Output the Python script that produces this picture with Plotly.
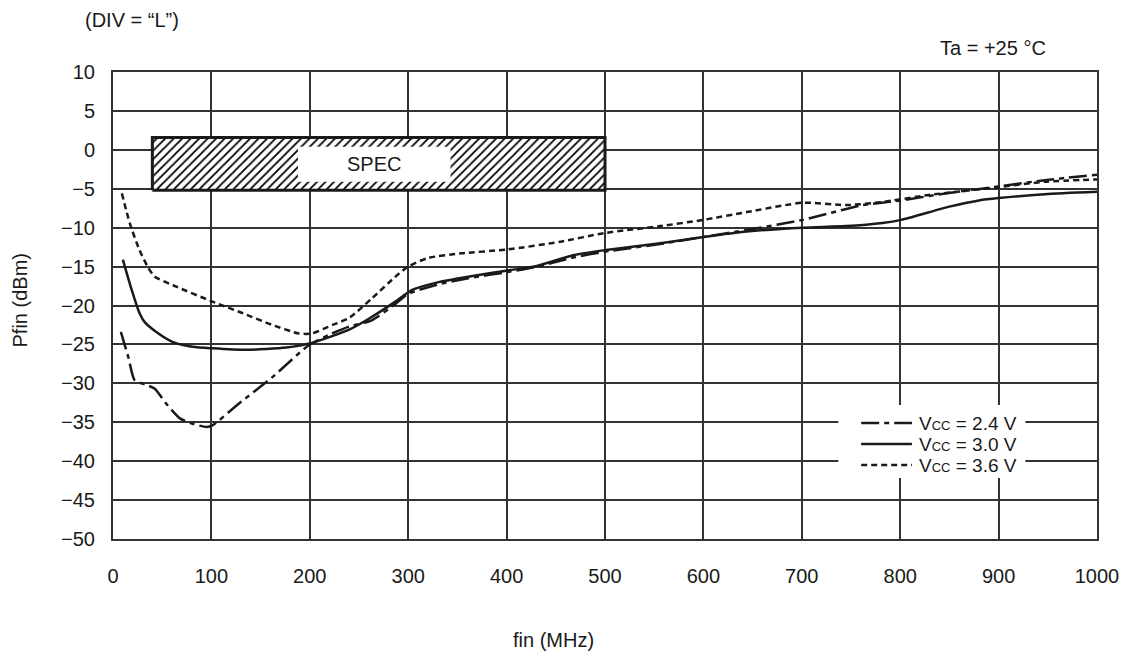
import plotly.graph_objects as go

# ---- data (fin in MHz, Pfin in dBm) ----
fin_24 = [8, 15.5, 22, 34, 42.5, 54, 68, 81, 95, 101, 128, 162, 199, 219, 240, 263, 287, 300, 330, 361, 401, 428, 469, 499, 556, 600, 644, 701, 762, 801, 846, 900, 947, 1000]
p_24 = [-23.4, -26.6, -29.6, -30.2, -30.7, -32.6, -34.5, -35.2, -35.6, -35.4, -32.6, -29.2, -25.1, -23.8, -22.7, -21.9, -19.8, -18.5, -17.3, -16.5, -15.7, -15.1, -13.8, -13.1, -12.1, -11.2, -10.3, -9.0, -7.1, -6.5, -5.6, -4.7, -3.9, -3.2]

fin_30 = [10, 19, 27, 32, 44, 61, 81, 101, 135, 176, 202, 240, 260, 287, 304, 331, 361, 401, 428, 469, 499, 556, 600, 644, 701, 745, 782, 801, 850, 880, 900, 947, 1000]
p_30 = [-14.1, -18.0, -21.0, -22.1, -23.4, -24.7, -25.3, -25.5, -25.7, -25.4, -24.8, -23.1, -21.7, -19.5, -18.0, -17.0, -16.3, -15.5, -15.0, -13.5, -12.9, -12.0, -11.2, -10.5, -10.0, -9.8, -9.4, -9.0, -7.3, -6.5, -6.2, -5.7, -5.4]

fin_36 = [9, 17, 27, 36, 42.5, 61, 101, 132, 162, 189, 202, 223, 240, 263, 287, 300, 320, 354, 401, 455, 499, 556, 600, 644, 701, 745, 782, 829, 900, 947, 1000]
p_36 = [-5.6, -9.4, -12.9, -15.2, -16.3, -17.4, -19.5, -21.0, -22.5, -23.6, -23.6, -22.5, -21.6, -19.1, -16.3, -15.0, -13.9, -13.3, -12.8, -11.8, -10.7, -9.8, -9.0, -8.0, -6.8, -7.1, -6.7, -5.8, -4.8, -4.1, -3.8]

series_names = ["V<span style='font-size:13px'>CC</span> = 2.4 V",
                "V<span style='font-size:13px'>CC</span> = 3.0 V",
                "V<span style='font-size:13px'>CC</span> = 3.6 V"]
series_dash = ["18px,5px,5px,5px", "solid", "6px,4px"]

x_ticks = [0, 100, 200, 300, 400, 500, 600, 700, 800, 900, 1000]
y_ticks = [10, 5, 0, -5, -10, -15, -20, -25, -30, -35, -40, -45, -50]

# spec region (MHz / dBm) and label box
spec_x = [40, 500]
spec_y = [-5.2, 1.6]
spec_label_x = [188, 343]
spec_label_y = [-4.1, 0.4]

FONT = "Liberation Sans, Arial, sans-serif"
INK = "#1a1a1a"

L, R, T, B = 113, 29, 72, 117
W, H = 1131, 656
ph = H - T - B
pw = W - L - R


def py(p):
    return (H - B - p) / ph


def px(p):
    return (p - L) / pw


fig = go.Figure()

# hatched spec box
fig.add_trace(go.Scatter(
    x=[spec_x[0], spec_x[1], spec_x[1], spec_x[0], spec_x[0]],
    y=[spec_y[0], spec_y[0], spec_y[1], spec_y[1], spec_y[0]],
    mode="lines", fill="toself",
    fillpattern=dict(shape="/", size=6, solidity=0.3, fgcolor="#000000", bgcolor="white", fillmode="replace"),
    fillcolor="white",
    line=dict(color=INK, width=3), showlegend=False, hoverinfo="skip"))

for fx, fy, nm, ds in [(fin_24, p_24, series_names[0], series_dash[0]),
                       (fin_30, p_30, series_names[1], series_dash[1]),
                       (fin_36, p_36, series_names[2], series_dash[2])]:
    fig.add_trace(go.Scatter(x=fx, y=fy, mode="lines", name=nm, showlegend=False,
                             line=dict(color=INK, width=2.5, dash=ds, shape="spline", smoothing=0.6)))

fig.add_shape(type="rect", xref="x", yref="y",
              x0=spec_label_x[0], x1=spec_label_x[1], y0=spec_label_y[0], y1=spec_label_y[1],
              fillcolor="white", line=dict(width=0), layer="above")
fig.add_annotation(x=(spec_label_x[0] + spec_label_x[1]) / 2, y=(spec_label_y[0] + spec_label_y[1]) / 2,
                   xref="x", yref="y", text="SPEC", showarrow=False,
                   font=dict(size=20, color=INK, family=FONT))

# manual legend (white panel, line samples, labels)
leg_box = dict(x0=842, x1=1030, y0=405, y1=478)
leg_rows = [423, 444, 465]
fig.add_shape(type="rect", xref="paper", yref="paper",
              x0=px(leg_box["x0"]), x1=px(leg_box["x1"]), y0=py(leg_box["y1"]), y1=py(leg_box["y0"]),
              fillcolor="white", line=dict(width=0), layer="above")
for row, nm, ds in zip(leg_rows, series_names, series_dash):
    fig.add_shape(type="line", xref="paper", yref="paper",
                  x0=px(865), x1=px(916), y0=py(row), y1=py(row),
                  line=dict(color=INK, width=2.5, dash=ds), layer="above")
    fig.add_annotation(x=px(921), y=py(row), xref="paper", yref="paper", text=nm,
                       showarrow=False, xanchor="left", yanchor="middle",
                       font=dict(size=19, color=INK, family=FONT))

fig.add_annotation(x=px(83), y=py(20), xref="paper", yref="paper", text="(DIV = “L”)",
                   showarrow=False, xanchor="left", yanchor="middle", font=dict(size=20, color=INK, family=FONT))
fig.add_annotation(x=px(1053), y=py(48), xref="paper", yref="paper", text="Ta = +25 °C",
                   showarrow=False, xanchor="right", yanchor="middle", font=dict(size=20, color=INK, family=FONT))
fig.add_annotation(x=px(556), y=py(640), xref="paper", yref="paper", text="fin (MHz)",
                   showarrow=False, xanchor="center", yanchor="middle", font=dict(size=20, color=INK, family=FONT))
fig.add_annotation(x=px(20), y=py(300), xref="paper", yref="paper", text="Pfin (dBm)",
                   showarrow=False, textangle=-90, xanchor="center", yanchor="middle",
                   font=dict(size=20, color=INK, family=FONT))

axis_common = dict(showgrid=True, gridcolor="#333333", gridwidth=1.5, zeroline=False,
                   showline=True, linecolor="#333333", linewidth=2, mirror=True, ticks="",
                   tickfont=dict(size=20, color=INK, family=FONT))

fig.update_xaxes(range=[0, 1000], tickvals=x_ticks, ticklabelstandoff=18, **axis_common)
fig.update_yaxes(range=[-50, 10], tickvals=y_ticks, ticklabelstandoff=12, **axis_common)

fig.update_layout(
    width=W, height=H, margin=dict(l=L, r=R, t=T, b=B),
    paper_bgcolor="white", plot_bgcolor="white",
    font=dict(family=FONT, size=20, color=INK),
    showlegend=False,
)

fig.write_html("out.html", config={"displayModeBar": False},
               post_script="document.body.style.margin='0';")
